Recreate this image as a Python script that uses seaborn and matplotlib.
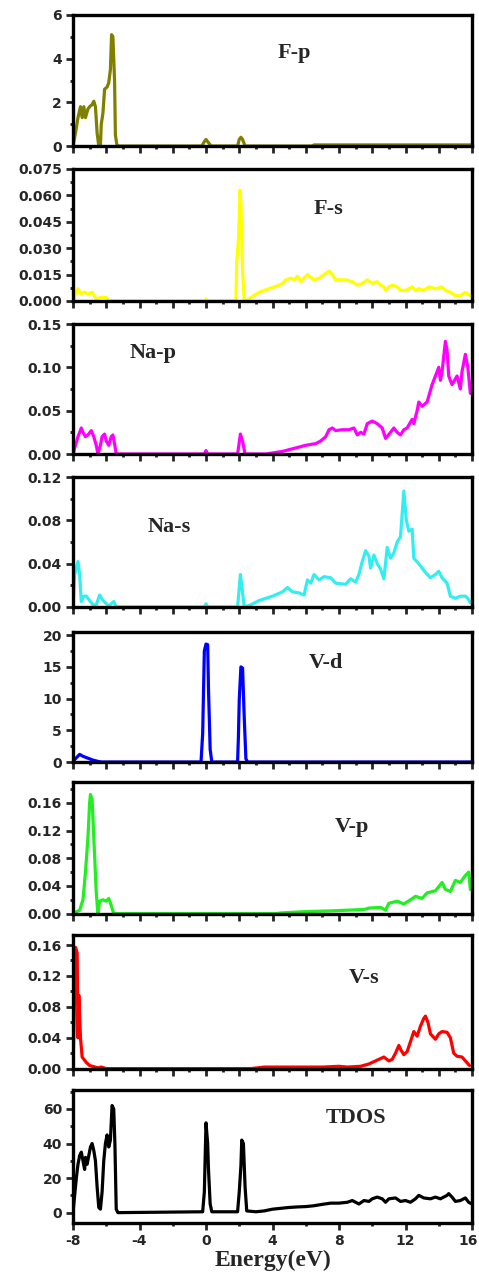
import matplotlib
matplotlib.use("Agg")
import matplotlib.pyplot as plt
import matplotlib.transforms as mtransforms
from matplotlib.ticker import MultipleLocator, FormatStrFormatter
import seaborn as sns
import pandas as pd

# ---- data (energy in eV, DOS values) ----
fp_e = [-8.0, -7.85, -7.7, -7.55, -7.45, -7.35, -7.25, -7.1, -7.0, -6.85, -6.75, -6.65, -6.55, -6.45,
        -6.35, -6.3, -6.2, -6.1, -5.95, -5.85, -5.75, -5.68, -5.6, -5.5, -5.45, -5.35, -5.3,
        -0.25, -0.1, 0.0, 0.15, 0.3, 1.9, 2.0, 2.1, 2.2, 2.35, 6.4, 6.5, 16.0]
fp_v = [0.0, 0.6, 1.3, 1.8, 1.3, 1.8, 1.3, 1.7, 1.8, 1.9, 2.05, 1.8, 0.6, 0.0,
        0.0, 1.0, 1.5, 2.6, 2.7, 2.9, 3.5, 5.1, 5.0, 3.0, 0.5, 0.0, 0.0,
        0.0, 0.2, 0.3, 0.15, 0.0, 0.0, 0.3, 0.4, 0.3, 0.0, 0.0, 0.05, 0.05]

fs_e = [-8.0, -7.85, -7.7, -7.55, -7.3, -7.1, -6.85, -6.6, -6.35, -6.0, -5.85, -0.1, 0.0, 0.1,
        1.8, 1.85, 1.95, 2.05, 2.1, 2.2, 2.3, 2.4, 2.7, 3.2, 3.8, 4.4, 4.6, 4.8, 5.1, 5.3, 5.5,
        5.7, 6.1, 6.5, 6.8, 7.1, 7.4, 7.6, 7.8, 8.4, 8.8, 9.1, 9.4, 9.7, 10.0, 10.3, 10.5, 10.7,
        10.8, 11.0, 11.2, 11.5, 11.7, 12.0, 12.4, 12.6, 12.8, 13.1, 13.4, 13.8, 14.2, 14.4,
        14.7, 15.0, 15.3, 15.6, 15.9]
fs_v = [0.0, 0.004, 0.007, 0.004, 0.005, 0.004, 0.005, 0.001, 0.002, 0.002, 0.0, 0.0, 0.001, 0.0,
        0.0, 0.022, 0.035, 0.063, 0.055, 0.017, 0.0, 0.0, 0.002, 0.005, 0.007, 0.009, 0.010, 0.012,
        0.013, 0.012, 0.014, 0.011, 0.015, 0.012, 0.013, 0.015, 0.017, 0.015, 0.012, 0.012, 0.011,
        0.009, 0.010, 0.012, 0.010, 0.011, 0.009, 0.008, 0.006, 0.008, 0.009, 0.008, 0.006, 0.006,
        0.008, 0.006, 0.007, 0.006, 0.008, 0.007, 0.008, 0.006, 0.005, 0.003, 0.003, 0.005, 0.003]

nap_e = [-8.0, -7.7, -7.5, -7.4, -7.25, -7.1, -6.9, -6.75, -6.6, -6.5, -6.35, -6.25, -6.1, -6.0,
         -5.85, -5.7, -5.6, -5.5, -5.4, -0.1, 0.0, 0.1, 1.9, 2.07, 2.2, 2.35, 3.6, 4.6, 5.2, 5.6,
         6.0, 6.6, 6.9, 7.2, 7.4, 7.6, 7.8, 8.2, 8.6, 8.9, 9.1, 9.3, 9.5, 9.7, 10.0, 10.3, 10.6,
         10.8, 11.1, 11.3, 11.5, 11.7, 11.9, 12.1, 12.4, 12.5, 12.7, 12.8, 13.0, 13.3, 13.6,
         13.8, 14.0, 14.1, 14.2, 14.4, 14.5, 14.6, 14.8, 15.1, 15.3, 15.4, 15.6, 15.75, 15.9]
nap_v = [0.0, 0.02, 0.03, 0.025, 0.02, 0.022, 0.027, 0.02, 0.01, 0.0, 0.01, 0.02, 0.023, 0.015,
         0.01, 0.02, 0.022, 0.012, 0.0, 0.0, 0.004, 0.0, 0.0, 0.023, 0.015, 0.0, 0.0, 0.003, 0.006,
         0.008, 0.010, 0.012, 0.015, 0.020, 0.028, 0.030, 0.027, 0.028, 0.028, 0.030, 0.022, 0.025,
         0.023, 0.035, 0.038, 0.035, 0.030, 0.018, 0.025, 0.030, 0.025, 0.022, 0.028, 0.030, 0.040,
         0.035, 0.050, 0.060, 0.055, 0.060, 0.080, 0.090, 0.100, 0.085, 0.095, 0.130, 0.120, 0.090,
         0.080, 0.090, 0.075, 0.095, 0.115, 0.100, 0.070]

nas_e = [-8.0, -7.9, -7.7, -7.6, -7.5, -7.35, -7.2, -7.0, -6.8, -6.6, -6.4, -6.2, -5.85, -5.55,
         -5.4, -0.1, 0.0, 0.1, 1.9, 2.07, 2.15, 2.3, 2.7, 3.2, 4.0, 4.6, 4.9, 5.2, 5.6, 5.9, 6.1,
         6.3, 6.5, 6.8, 7.1, 7.5, 7.8, 8.4, 8.7, 9.0, 9.2, 9.4, 9.6, 9.8, 9.9, 10.1, 10.3, 10.5,
         10.7, 10.9, 11.1, 11.3, 11.5, 11.7, 11.9, 12.05, 12.2, 12.4, 12.5, 12.8, 13.2, 13.5, 13.8,
         14.0, 14.2, 14.5, 14.7, 15.0, 15.3, 15.6, 15.75, 15.9]
nas_v = [0.0, 0.03, 0.042, 0.03, 0.005, 0.01, 0.01, 0.006, 0.002, 0.002, 0.011, 0.006, 0.001, 0.005,
         0.0, 0.0, 0.003, 0.0, 0.0, 0.03, 0.02, 0.0, 0.002, 0.006, 0.010, 0.014, 0.018, 0.014, 0.013,
         0.011, 0.025, 0.022, 0.030, 0.025, 0.028, 0.027, 0.022, 0.021, 0.026, 0.023, 0.030, 0.042,
         0.052, 0.047, 0.036, 0.048, 0.040, 0.035, 0.026, 0.055, 0.045, 0.050, 0.060, 0.065, 0.107,
         0.080, 0.070, 0.072, 0.045, 0.040, 0.032, 0.027, 0.030, 0.033, 0.027, 0.022, 0.010, 0.008,
         0.010, 0.010, 0.008, 0.004]

vd_e = [-8.0, -7.75, -7.6, -7.4, -7.0, -6.8, -6.5, -6.3, -0.3, -0.2, -0.1, 0.0, 0.1, 0.15, 0.25,
        0.35, 1.9, 1.95, 2.0, 2.1, 2.2, 2.3, 2.4, 2.5, 16.0]
vd_v = [0.1, 0.8, 1.2, 0.9, 0.5, 0.3, 0.1, 0.0, 0.0, 4.5, 17.5, 18.6, 18.5, 11.5, 2.0,
        0.0, 0.0, 4.0, 9.8, 15.0, 14.8, 7.0, 0.5, 0.0, 0.0]

vp_e = [-8.0, -7.6, -7.4, -7.25, -7.1, -7.0, -6.95, -6.85, -6.75, -6.6, -6.5, -6.4, -6.2, -6.0,
        -5.85, -5.7, -5.55, 4.2, 4.5, 6.0, 7.5, 9.5, 9.8, 10.5, 10.8, 11.0, 11.5, 11.9, 12.3, 12.6,
        13.0, 13.3, 13.8, 14.2, 14.4, 14.7, 15.0, 15.3, 15.6, 15.8, 15.9]
vp_v = [0.0, 0.005, 0.02, 0.06, 0.11, 0.16, 0.172, 0.165, 0.11, 0.03, 0.0, 0.018, 0.02, 0.018,
        0.022, 0.012, 0.0, 0.0, 0.001, 0.003, 0.004, 0.006, 0.008, 0.009, 0.005, 0.015, 0.018,
        0.014, 0.020, 0.025, 0.022, 0.030, 0.033, 0.045, 0.035, 0.032, 0.048, 0.045, 0.055, 0.060,
        0.035]

vs_e = [-8.0, -7.9, -7.85, -7.75, -7.7, -7.65, -7.55, -7.45, -7.2, -7.0, -6.5, -6.3, -6.0, 2.7,
        3.5, 5.0, 7.0, 8.0, 8.5, 9.3, 9.8, 10.2, 10.5, 10.7, 11.0, 11.2, 11.4, 11.6, 11.7, 11.9,
        12.1, 12.3, 12.5, 12.7, 12.9, 13.1, 13.2, 13.35, 13.5, 13.8, 14.0, 14.2, 14.5, 14.7, 14.9,
        15.1, 15.4, 15.6, 15.85]
vs_v = [0.0, 0.095, 0.157, 0.15, 0.04, 0.095, 0.04, 0.015, 0.008, 0.004, 0.001, 0.002, 0.0, 0.0,
        0.002, 0.002, 0.002, 0.003, 0.002, 0.003, 0.006, 0.010, 0.013, 0.015, 0.010, 0.012, 0.020,
        0.030, 0.025, 0.018, 0.022, 0.035, 0.048, 0.042, 0.055, 0.065, 0.068, 0.060, 0.045, 0.038,
        0.045, 0.048, 0.047, 0.040, 0.020, 0.016, 0.015, 0.010, 0.004]

tdos_e = [-8.0, -7.9, -7.8, -7.7, -7.6, -7.5, -7.4, -7.3, -7.25, -7.15, -7.05, -6.95, -6.85, -6.75,
          -6.65, -6.55, -6.45, -6.35, -6.25, -6.15, -6.05, -5.95, -5.85, -5.75, -5.65, -5.55,
          -5.48, -5.4, -5.3, -0.2, -0.1, 0.0, 0.1, 0.15, 0.25, 0.35, 1.9, 2.0, 2.1, 2.15, 2.25,
          2.35, 2.45, 3.0, 3.5, 4.0, 4.5, 5.0, 5.5, 6.0, 6.5, 7.0, 7.5, 8.0, 8.5, 8.8, 9.0, 9.2,
          9.5, 9.8, 10.0, 10.3, 10.6, 10.8, 11.0, 11.4, 11.7, 12.0, 12.3, 12.6, 12.8, 13.1, 13.5,
          13.8, 14.1, 14.5, 14.6, 14.8, 15.0, 15.3, 15.6, 15.8, 16.0]
tdos_v = [0, 10, 20, 28, 33, 35, 30, 25, 32, 28, 33, 38, 40, 36, 30, 15, 3, 2, 12, 30, 40, 45, 38,
          42, 62, 60, 40, 2, 0, 0.5, 12, 52, 40, 25, 5, 0.5, 0.5, 12, 27, 42, 40, 15, 1, 0.5, 1, 2,
          2.5, 3, 3.3, 3.5, 4, 4.8, 5.5, 5.5, 6, 7, 6, 5, 7, 6.5, 8, 9, 8, 6, 8, 8.5, 6.5, 7, 6, 8,
          10, 8.5, 8, 9, 8, 10, 11, 9, 6.5, 7, 8.5, 6, 5]

names = ["F-p", "F-s", "Na-p", "Na-s", "V-d", "V-p", "V-s", "TDOS"]
colors = ["#808000", "#ffff00", "#ff00ff", "#33eef0", "#0000ff", "#22ee22", "#ff0000", "#000000"]
series = [(fp_e, fp_v), (fs_e, fs_v), (nap_e, nap_v), (nas_e, nas_v),
          (vd_e, vd_v), (vp_e, vp_v), (vs_e, vs_v), (tdos_e, tdos_v)]

# panel layout (pixel rows in a 479x1288 canvas) and axis settings
rows = [(15, 146), (169, 301), (324, 454), (477, 607), (632, 762), (782, 914), (935, 1069), (1090, 1223)]
ylims = [(0, 6), (0, 0.075), (0, 0.15), (0, 0.12), (0, 20.5), (-0.0005, 0.19), (-0.0005, 0.173), (-6, 71)]
ymaj = [2, 0.015, 0.05, 0.04, 5, 0.04, 0.04, 20]
ymin = [1, 0.0075, 0.025, 0.02, 2.5, 0.02, 0.02, 10]
yfmt = ["%d", "%.3f", "%.2f", "%.2f", "%d", "%.2f", "%.2f", "%d"]
label_pos = [(0.555, 0.71), (0.64, 0.70), (0.20, 0.78), (0.24, 0.615),
             (0.635, 0.76), (0.70, 0.66), (0.73, 0.68), (0.71, 0.79)]

sns.set_style("ticks")
plt.rcParams["font.family"] = ["DejaVu Sans"]
plt.rcParams["axes.unicode_minus"] = False

W, H = 479, 1288
fig = plt.figure(figsize=(W / 100, H / 100), dpi=100)

for i, name in enumerate(names):
    top, bot = rows[i]
    ax = fig.add_axes([73 / W, 1 - bot / H, 399 / W, (bot - top) / H])
    e, v = series[i]
    df = pd.DataFrame({"energy": e, "dos": v})
    sns.lineplot(data=df, x="energy", y="dos", ax=ax, color=colors[i], linewidth=2.3,
                 sort=False, estimator=None)

    ax.set_xlim(-8, 16)
    ax.set_ylim(*ylims[i])
    ax.yaxis.set_major_locator(MultipleLocator(ymaj[i]))
    ax.yaxis.set_minor_locator(MultipleLocator(ymin[i]))
    ax.yaxis.set_major_formatter(FormatStrFormatter(yfmt[i]))

    if name == "TDOS":
        ax.xaxis.set_major_locator(MultipleLocator(4))
        ax.xaxis.set_minor_locator(MultipleLocator(2))
        ax.set_xlabel("Energy(eV)", fontsize=17, fontweight="bold",
                      family=["Liberation Serif"], labelpad=1)
    else:
        ax.xaxis.set_major_locator(MultipleLocator(2))
        ax.xaxis.set_minor_locator(MultipleLocator(1))
        ax.tick_params(axis="x", which="both", labelbottom=False)
        ax.set_xlabel("")
    ax.set_ylabel("")

    ax.tick_params(which="major", direction="out", length=5, width=2, labelsize=10, pad=3)
    ax.tick_params(which="minor", direction="out", length=2.5, width=2)
    for lab in ax.get_xticklabels() + ax.get_yticklabels():
        lab.set_fontweight("bold")
    for sp in ax.spines.values():
        sp.set_visible(True)
        sp.set_linewidth(2.4)
        sp.set_color("black")

    if name == "TDOS":
        # keep the last x label ("16") inside the canvas
        fig.canvas.draw()
        last = ax.get_xticklabels()[-1]
        for lab in ax.get_xticklabels():
            if lab.get_text() == "16":
                last = lab
        shift = mtransforms.ScaledTranslation(-4 / 100, 0, fig.dpi_scale_trans)
        last.set_transform(last.get_transform() + shift)

    ax.text(label_pos[i][0], label_pos[i][1], name, transform=ax.transAxes,
            ha="center", va="center", fontsize=16, fontweight="bold",
            family=["Liberation Serif"])

fig.savefig("out.png", dpi=100)
